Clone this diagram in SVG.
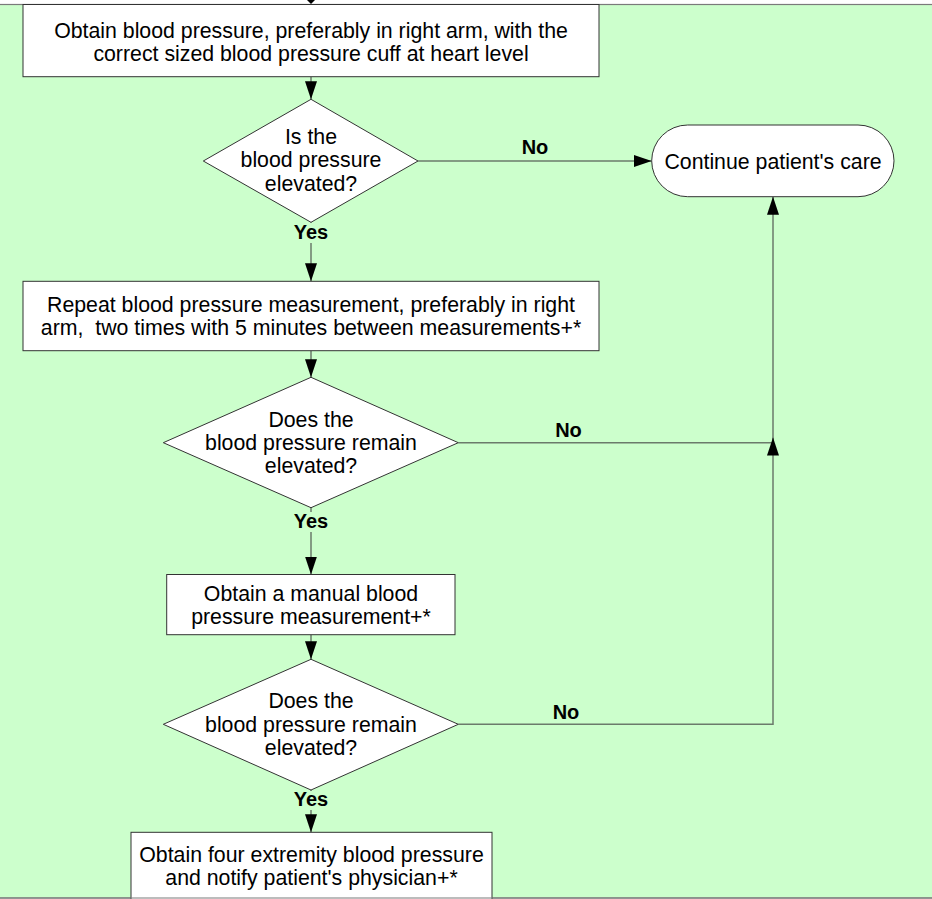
<svg xmlns="http://www.w3.org/2000/svg" width="932" height="899" viewBox="0 0 932 899">
<style>
  .shape { fill: #ffffff; stroke: #333333; stroke-width: 1; }
  .t { font-family: "Liberation Sans", Arial, sans-serif; font-size: 21.3px; fill: #000; text-anchor: middle; }
  .lbl { font-family: "Liberation Sans", Arial, sans-serif; font-size: 20px; font-weight: bold; fill: #000; text-anchor: middle; }
  .lblbg { fill: #ccffcc; stroke: none; }
  .conn { fill: none; stroke: #6b7b6b; stroke-width: 1.5; }
</style>
<defs>
  <marker id="arr" viewBox="0 0 18 12" markerWidth="18" markerHeight="12" refX="18" refY="6" orient="auto" markerUnits="userSpaceOnUse">
    <path d="M0,0 L18,6 L0,12 z" fill="#000"/>
  </marker>
</defs>
<rect x="0" y="0" width="932" height="899" fill="#ffffff"/>
<rect x="-2" y="4.5" width="936" height="893.5" fill="#ccffcc" stroke="#7a7a7a" stroke-width="1.2"/>

<g id="connectors">
  <polygon points="307,0 315,0 311,4" fill="#000"/>
  <path class="conn" d="M311 76.7 V99.3" marker-end="url(#arr)"/>
  <path class="conn" d="M311 222.3 V281.3" marker-end="url(#arr)"/>
  <path class="conn" d="M311 350.7 V377.3" marker-end="url(#arr)"/>
  <path class="conn" d="M311 507.7 V574.5" marker-end="url(#arr)"/>
  <path class="conn" d="M311 634.7 V659.3" marker-end="url(#arr)"/>
  <path class="conn" d="M311 790 V832.3" marker-end="url(#arr)"/>
  <path class="conn" d="M418 161 H651.7" marker-end="url(#arr)"/>
  <path class="conn" d="M458.3 442.7 H773 V196.7" marker-end="url(#arr)"/>
  <path class="conn" d="M458.3 724.3 H773 V437.5" marker-end="url(#arr)"/>
  <rect class="lblbg" x="292" y="223" width="38" height="20"/>
  <rect class="lblbg" x="292" y="512" width="38" height="20"/>
  <rect class="lblbg" x="292" y="791" width="38" height="19"/>
  <text class="lbl" x="311" y="239">Yes</text>
  <text class="lbl" x="311" y="528">Yes</text>
  <text class="lbl" x="311" y="806">Yes</text>
  <text class="lbl" x="535" y="154.3">No</text>
  <text class="lbl" x="568.5" y="436.7">No</text>
  <text class="lbl" x="566" y="718.5">No</text>
</g>

<g id="n1">
  <rect class="shape" x="23" y="4.5" width="576" height="72.2"/>
  <text class="t" x="311" y="37.5">Obtain blood pressure, preferably in right arm, with the</text>
  <text class="t" x="311" y="60.8">correct sized blood pressure cuff at heart level</text>
</g>

<g id="d1">
  <polygon class="shape" points="311,99.3 418,161 311,222.3 203.3,161"/>
  <text class="t" x="311" y="144">Is the</text>
  <text class="t" x="311" y="167.3">blood pressure</text>
  <text class="t" x="311" y="190.7">elevated?</text>
</g>

<g id="n_continue">
  <rect class="shape" x="651.7" y="125" width="242.3" height="71.7" rx="36" ry="36"/>
  <text class="t" x="773" y="169.3">Continue patient's care</text>
</g>

<g id="n2">
  <rect class="shape" x="23" y="281.3" width="576" height="69.4"/>
  <text class="t" x="311" y="311.7">Repeat blood pressure measurement, preferably in right</text>
  <text class="t" x="311" y="335" xml:space="preserve">arm,  two times with 5 minutes between measurements+*</text>
</g>

<g id="d2">
  <polygon class="shape" points="311,377.3 458.3,442.7 311,507.7 163.3,442.7"/>
  <text class="t" x="311" y="426.7">Does the</text>
  <text class="t" x="311" y="450">blood pressure remain</text>
  <text class="t" x="311" y="473.3">elevated?</text>
</g>

<g id="n3">
  <rect class="shape" x="166.7" y="574.5" width="288.3" height="60.2"/>
  <text class="t" x="311" y="600.7">Obtain a manual blood</text>
  <text class="t" x="311" y="624">pressure measurement+*</text>
</g>

<g id="d3">
  <polygon class="shape" points="311,659.3 458.3,724.3 311,790 163.3,724.3"/>
  <text class="t" x="311" y="708.3">Does the</text>
  <text class="t" x="311" y="731.6">blood pressure remain</text>
  <text class="t" x="311" y="755">elevated?</text>
</g>

<g id="n4">
  <rect class="shape" x="131" y="832.3" width="361" height="80"/>
  <text class="t" x="311.5" y="862">Obtain four extremity blood pressure</text>
  <text class="t" x="311.5" y="885">and notify patient's physician+*</text>
</g>

<line x1="-2" y1="898" x2="934" y2="898" stroke="#7a7a7a" stroke-width="1.2"/>
</svg>
